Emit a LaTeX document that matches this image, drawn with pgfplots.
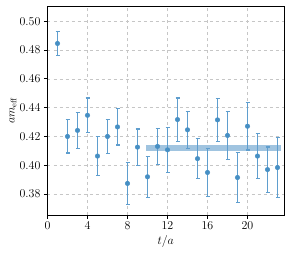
\documentclass[border=0pt]{standalone}
\usepackage{pgfplots}
\pgfplotsset{compat=1.18}
\definecolor{C0}{RGB}{31,119,180}
\definecolor{C0m}{RGB}{70,143,196}
\definecolor{C0e}{RGB}{95,158,206}
\definecolor{C0b}{RGB}{160,196,224}
\pgfplotstableread{
t m e
1 0.4845 0.0085
2 0.4200 0.0115
3 0.4242 0.0125
4 0.4347 0.0120
5 0.4064 0.0135
6 0.4200 0.0120
7 0.4266 0.0125
8 0.3874 0.0143
9 0.4126 0.0126
10 0.3920 0.0143
11 0.4131 0.0124
12 0.4107 0.0157
13 0.4317 0.0150
14 0.4246 0.0128
15 0.4046 0.0140
16 0.3950 0.0166
17 0.4315 0.0150
18 0.4207 0.0165
19 0.3915 0.0172
20 0.4271 0.0165
21 0.4064 0.0155
22 0.3970 0.0157
23 0.3984 0.0210
}\effmass
\begin{document}
\begin{tikzpicture}[x=1pt,y=1pt]
\begin{axis}[
 at={(0,0)}, anchor=south west,
 width=236.5pt, height=209pt, scale only axis,
 xmin=0, xmax=23.65, ymin=0.3655, ymax=0.5105,
 xtick={0,4,...,20}, ytick={0.38,0.40,...,0.50},
 yticklabel style={/pgf/number format/.cd, fixed, fixed zerofill, precision=2},
 grid=major, grid style={dashed, gray!45, line width=0.5pt},
 tick align=outside, tick pos=left, major tick length=3.5pt,
 tick style={black, line width=0.6pt},
 axis line style={black, line width=0.7pt},
 ticklabel style={font=\fontsize{12}{14}\selectfont},
 label style={font=\fontsize{12}{14}\selectfont},
 xlabel={$t/a$}, ylabel={$am_{\mathrm{eff}}$},
 xlabel style={at={(axis description cs:0.5,0)}, anchor=center, yshift=-26.7pt},
 ylabel style={at={(axis description cs:-0.146,0.5)}, anchor=center},
 every error bar/.style={draw=C0e, color=C0e, line width=1.7pt},
 unbounded coords=jump,
]
\addplot[draw=none, fill=C0b] coordinates {(9.85,0.4097) (23.35,0.4097) (23.35,0.4143) (9.85,0.4143)} -- cycle;
% vertical error bar lines
\addplot[C0e, line width=1.7pt, no marks] coordinates {
(1,0.4760) (1,0.4930) (1,nan)
(2,0.4085) (2,0.4315) (2,nan)
(3,0.4117) (3,0.4367) (3,nan)
(4,0.4227) (4,0.4467) (4,nan)
(5,0.3929) (5,0.4199) (5,nan)
(6,0.4080) (6,0.4320) (6,nan)
(7,0.4141) (7,0.4391) (7,nan)
(8,0.3731) (8,0.4017) (8,nan)
(9,0.4000) (9,0.4252) (9,nan)
(10,0.3777) (10,0.4063) (10,nan)
(11,0.4007) (11,0.4255) (11,nan)
(12,0.3950) (12,0.4264) (12,nan)
(13,0.4167) (13,0.4467) (13,nan)
(14,0.4118) (14,0.4374) (14,nan)
(15,0.3906) (15,0.4186) (15,nan)
(16,0.3784) (16,0.4116) (16,nan)
(17,0.4165) (17,0.4465) (17,nan)
(18,0.4042) (18,0.4372) (18,nan)
(19,0.3743) (19,0.4087) (19,nan)
(20,0.4106) (20,0.4436) (20,nan)
(21,0.3909) (21,0.4219) (21,nan)
(22,0.3813) (22,0.4127) (22,nan)
(23,0.3774) (23,0.4194)
};
\addplot+[only marks, mark=*, mark size=2.3pt, mark options={draw=C0m, fill=C0m},
  error bars/.cd, y dir=both, y explicit,
  error bar style={draw=C0e, color=C0e, line width=1.7pt},
  error mark options={rotate=90, mark size=2pt, line width=1.1pt, draw=C0e}]
  table[x=t, y=m, y error=e] {\effmass};
\end{axis}
\path (-47.5,-40) rectangle (243.5,215);
\end{tikzpicture}
\end{document}
